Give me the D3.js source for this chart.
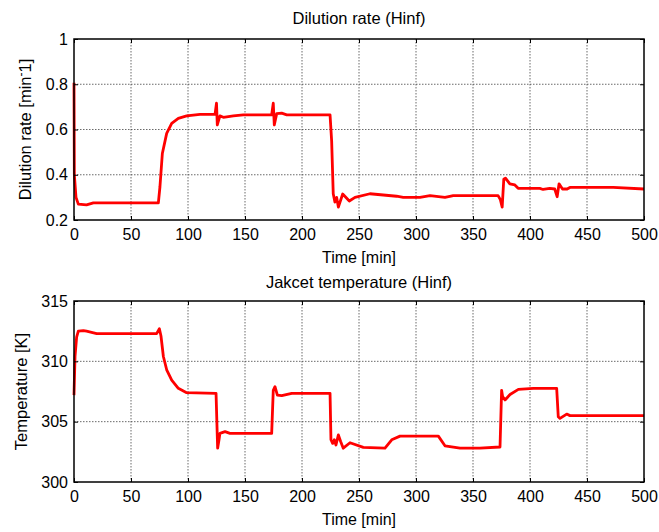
<!doctype html>
<html lang="en">
<head>
  <meta charset="utf-8">
  <title>Dilution rate and jacket temperature - D3</title>
  <style>
    body { margin: 0; background: #fff; }
    svg { display: block; font-family: "Liberation Sans", Arial, sans-serif; }
  </style>
</head>
<body>
  <svg width="659" height="532"></svg>

  <script src="https://cdn.jsdelivr.net/npm/d3@7/dist/d3.min.js"></script>
  <script>
    // values
    var xTicks = [0, 50, 100, 150, 200, 250, 300, 350, 400, 450, 500];
    var dilutionTicks = [0.2, 0.4, 0.6, 0.8, 1];
    var tempTicks = [300, 305, 310, 315];

    var dilutionTime = [0, 0.3, 1.75, 3.8, 11, 17, 74, 75.4, 77.5, 81.3, 85.7, 91.5, 98.8, 110.5, 123.7, 125,
      125.7, 128, 131, 139.8, 148.5, 173.4, 174.8, 175.7, 177.8, 182.2, 186.6, 224.6, 226, 227.4, 228.9,
      230.4, 231.9, 235.7, 241.5, 246.5, 259.6, 283, 288.8, 303.5, 312.3, 325.4, 332.7, 372, 374, 375.6,
      377, 378.5, 382.3, 386.7, 389.6, 408.6, 411.5, 417.3, 421.7, 423.8, 425.5, 428.5, 432.6, 435, 473, 500];
    var dilution = [0.807, 0.40, 0.30, 0.27, 0.267, 0.276, 0.276, 0.347, 0.494, 0.583, 0.627, 0.649, 0.66, 0.667, 0.667, 0.716,
      0.62, 0.66, 0.654, 0.66, 0.665, 0.665, 0.716, 0.62, 0.67, 0.672, 0.665, 0.665, 0.55, 0.316, 0.279,
      0.30, 0.257, 0.315, 0.284, 0.30, 0.316, 0.305, 0.30, 0.30, 0.308, 0.30, 0.308, 0.308, 0.29, 0.257,
      0.38, 0.385, 0.36, 0.355, 0.34, 0.34, 0.335, 0.34, 0.337, 0.303, 0.36, 0.337, 0.337, 0.344, 0.344, 0.337];

    var tempTime = [0, 0.9, 2.3, 3.8, 8.2, 11, 19.9, 72.5, 74.9, 76.3, 78.4, 81.3, 85.7, 91.5, 98.8,
      124.6, 125.7, 126, 127.2, 128, 132.5, 136.8, 173.4, 174.8, 176.3, 178.4, 182.2, 191, 224.6, 225.4,
      226.9, 228.3, 229.8, 231.9, 233.9, 236.2, 242.1, 253.8, 272.8, 278.7, 286, 319.6, 325.4, 338.6, 356.1,
      373.7, 375.1, 376, 378.1, 382.5, 389.8, 402.9, 423.4, 424.8, 426.3, 432.2, 435.1, 500];
    var temperature = [307.2, 310.4, 312.0, 312.5, 312.55, 312.5, 312.3, 312.3, 312.7, 312.1, 310.4, 309.3, 308.45, 307.76, 307.4,
      307.35, 303.75, 302.8, 303.5, 304.03, 304.17, 304.03, 304.03, 307.6, 307.9, 307.2, 307.15, 307.35, 307.35, 303.5,
      303.2, 303.5, 303.07, 303.9, 303.35, 302.8, 303.25, 302.87, 302.8, 303.5, 303.8, 303.8, 303.0, 302.8, 302.8,
      302.9, 307.6, 307.07, 306.8, 307.25, 307.68, 307.76, 307.76, 305.4, 305.27, 305.63, 305.5, 305.5];

    var svg = d3.select('svg');
    var left = 74, right = 644;

    var x = d3.scaleLinear().domain([0, 500]).range([left, right]);

    function drawPanel(opt) {
      var y = d3.scaleLinear().domain(opt.domain).range([opt.bottom, opt.top]);
      var g = svg.append('g');

      // dotted grid
      g.selectAll('.vgrid').data(xTicks.slice(1, -1)).enter()
        .append('line')
        .attr('x1', d => x(d)).attr('x2', d => x(d))
        .attr('y1', opt.top).attr('y2', opt.bottom)
        .attr('stroke', '#444').attr('stroke-width', 0.8)
        .attr('stroke-dasharray', '1.5,1.5');
      g.selectAll('.hgrid').data(opt.ticks.slice(1, -1)).enter()
        .append('line')
        .attr('x1', left).attr('x2', right)
        .attr('y1', d => y(d)).attr('y2', d => y(d))
        .attr('stroke', '#444').attr('stroke-width', 0.8)
        .attr('stroke-dasharray', '1.5,1.5');

      // the data line
      var line = d3.line()
        .x(d => x(d[0]))
        .y(d => y(d[1]));
      g.append('path')
        .datum(d3.zip(opt.xs, opt.ys))
        .attr('d', line)
        .attr('fill', 'none')
        .attr('stroke', '#ff0000')
        .attr('stroke-width', 2.8)
        .attr('stroke-linejoin', 'round');

      // axes with inward ticks, like matlab
      var fmt = d3.format('~g');
      var bottomAx = g.append('g')
        .attr('transform', 'translate(0,' + opt.bottom + ')')
        .call(d3.axisBottom(x).tickValues(xTicks).tickSize(-4).tickPadding(9).tickFormat(fmt));
      var leftAx = g.append('g')
        .attr('transform', 'translate(' + left + ',0)')
        .call(d3.axisLeft(y).tickValues(opt.ticks).tickSize(-4).tickPadding(6).tickFormat(fmt));
      var topAx = g.append('g')
        .attr('transform', 'translate(0,' + opt.top + ')')
        .call(d3.axisTop(x).tickValues(xTicks).tickSize(-4).tickFormat(''));
      var rightAx = g.append('g')
        .attr('transform', 'translate(' + right + ',0)')
        .call(d3.axisRight(y).tickValues(opt.ticks).tickSize(-4).tickFormat(''));

      [bottomAx, leftAx, topAx, rightAx].forEach(a => {
        a.select('.domain').remove();
        a.selectAll('line').attr('stroke', '#000');
        a.selectAll('text').attr('font-size', 16).attr('fill', '#000')
          .attr('font-family', '"Liberation Sans", Arial, sans-serif');
      });

      g.append('rect')
        .attr('x', left).attr('y', opt.top)
        .attr('width', right - left).attr('height', opt.bottom - opt.top)
        .attr('fill', 'none').attr('stroke', '#000').attr('stroke-width', 1.5);

      // titles and labels
      g.append('text')
        .attr('x', (left + right) / 2).attr('y', opt.titleY)
        .attr('text-anchor', 'middle').attr('font-size', 16.5)
        .text(opt.title);
      g.append('text')
        .attr('x', (left + right) / 2).attr('y', opt.bottom + 42.5)
        .attr('text-anchor', 'middle').attr('font-size', 16)
        .text('Time [min]');
      var yl = g.append('text')
        .attr('transform', 'translate(' + opt.ylabelX + ',' + (opt.top + opt.bottom) / 2 + ') rotate(-90)')
        .attr('text-anchor', 'middle').attr('font-size', 16.5);
      opt.ylabel(yl);
    }

    drawPanel({
      top: 39, bottom: 220, domain: [0.2, 1], ticks: dilutionTicks,
      xs: dilutionTime, ys: dilution,
      title: 'Dilution rate (Hinf)', titleY: 24, ylabelX: 30.5,
      ylabel: t => {
        t.append('tspan').text('Dilution rate [min');
        t.append('tspan').attr('dy', -6).attr('font-size', 12).text('-');
        t.append('tspan').attr('dy', 6).text('1]');
      }
    });

    drawPanel({
      top: 301, bottom: 482, domain: [300, 315], ticks: tempTicks,
      xs: tempTime, ys: temperature,
      title: 'Jakcet temperature (Hinf)', titleY: 287.5, ylabelX: 27,
      ylabel: t => t.text('Temperature [K]')
    });
  </script>
</body>
</html>
